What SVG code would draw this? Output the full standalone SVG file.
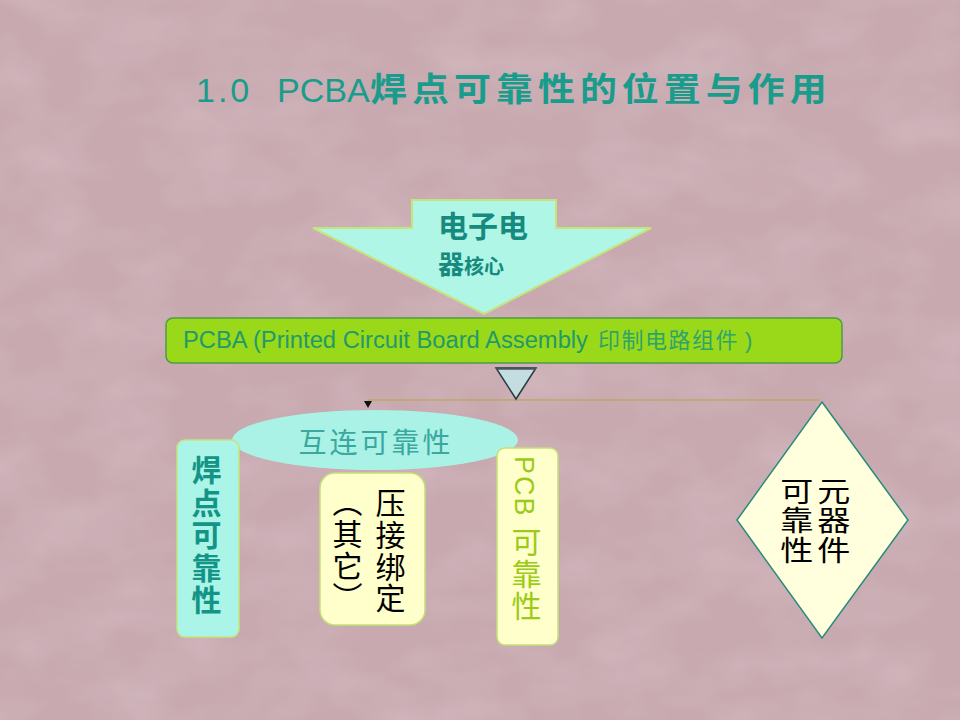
<svg xmlns="http://www.w3.org/2000/svg" width="960" height="720" viewBox="0 0 960 720">
<defs>
<filter id="tex" x="0" y="0" width="100%" height="100%">
<feTurbulence type="fractalNoise" baseFrequency="0.012 0.02" numOctaves="3" seed="7"/>
<feColorMatrix type="matrix" values="0 0 0 0 0.86  0 0 0 0 0.76  0 0 0 0 0.79  0 0 0 1.2 -0.45"/>
</filter>
<style>
.lat{font-family:"Liberation Sans","Noto Sans CJK SC",sans-serif}
.cjk{font-family:"Noto Sans CJK SC","Liberation Sans",sans-serif}
.vert{writing-mode:vertical-rl;font-family:"Liberation Sans","Noto Sans CJK SC",sans-serif}
.ybox{fill:#ffffcc;stroke:#c5df78;stroke-width:1.5}
</style>
</defs>
<rect width="960" height="720" fill="#c8a9b0"/>
<rect width="960" height="720" filter="url(#tex)" opacity="0.35"/>

<g id="title" fill="#1a9c8c">
<text class="lat" x="196" y="102" font-size="34" letter-spacing="3">1.0</text>
<text class="lat" x="277" y="102" font-size="34">PCBA</text>
<text class="cjk" x="370" y="101" font-size="33" font-weight="bold" letter-spacing="4.5" transform="translate(370 0) scale(1.12 1) translate(-370 0)">焊点可靠性的位置与作用</text>
</g>

<g id="connectors">
<path d="M820 400 H368" fill="none" stroke="#bda865" stroke-width="1.5"/>
<polygon points="364,401 372,401 368,408" fill="#111"/>
</g>

<g id="core-arrow">
<polygon points="412,200 556,200 556,228 651,228 484,314 313,228 412,228" fill="#b0f6e6" stroke="#c5e57a" stroke-width="2"/>
<text class="cjk" x="438" y="237" font-size="30" font-weight="bold" fill="#168a7e">电子电</text>
<text class="cjk" x="438" y="274" font-weight="bold" fill="#168a7e"><tspan font-size="26">器</tspan><tspan font-size="20">核心</tspan></text>
</g>

<g id="pcba-bar">
<rect x="166" y="318" width="676" height="45" rx="7" fill="#9ad81a" stroke="#4f9a48" stroke-width="1.5"/>
<text class="lat" x="183" y="348" font-size="23" fill="#1f9a6a" textLength="405" lengthAdjust="spacingAndGlyphs">PCBA (Printed Circuit Board Assembly</text>
<text class="cjk" x="598" y="348" font-size="22" fill="#2fa46a" letter-spacing="1.5">印制电路组件</text>
<text class="lat" x="745" y="348" font-size="22" fill="#2fa46a">)</text>
</g>

<g id="down-triangle">
<polygon points="496,368 536,368 516,399" fill="#c4dde0" stroke="#2b3c40" stroke-width="1.5"/>
<line x1="496" y1="368.5" x2="536" y2="368.5" stroke="#4a5558" stroke-width="2.5"/>
</g>

<g id="interconnect">
<ellipse cx="375" cy="440" rx="143" ry="30" fill="#aaf2e6"/>
<text class="cjk" x="376" y="453" font-size="28" fill="#3aa7a0" text-anchor="middle" letter-spacing="3">互连可靠性</text>
</g>

<g id="solder-joint">
<rect x="177" y="440" width="62" height="197" rx="8" fill="#aaf5e8" stroke="#c5e57a" stroke-width="1.5"/>
<text class="vert" x="204" y="455" font-size="30" font-weight="bold" fill="#149486" letter-spacing="2.5">焊点可靠性</text>
</g>

<g id="press-bond">
<rect x="320" y="473" width="105" height="152" rx="15" class="ybox"/>
<text class="vert" x="388" y="488" font-size="30" fill="#000" letter-spacing="1.7">压接绑定</text>
<text class="vert" x="345" y="487" font-size="30" fill="#000" letter-spacing="1.7">（其它）</text>
</g>

<g id="pcb">
<rect x="497" y="448" width="61" height="197" rx="8" class="ybox"/>
<text class="vert" x="524" y="456" fill="#9acb18" letter-spacing="2"><tspan font-size="27">PCB </tspan><tspan font-size="30">可靠性</tspan></text>
</g>

<g id="component">
<polygon points="822,402 908,520 822,638 737,520" fill="#ffffdd" stroke="#2a8a7a" stroke-width="1.5"/>
<text class="vert" x="831" y="477" font-size="28" fill="#000" letter-spacing="1.5" transform="translate(831 0) scale(1.18 1) translate(-831 0)">元器件</text>
<text class="vert" x="794" y="477" font-size="28" fill="#000" letter-spacing="1.5" transform="translate(794 0) scale(1.18 1) translate(-794 0)">可靠性</text>
</g>
</svg>
